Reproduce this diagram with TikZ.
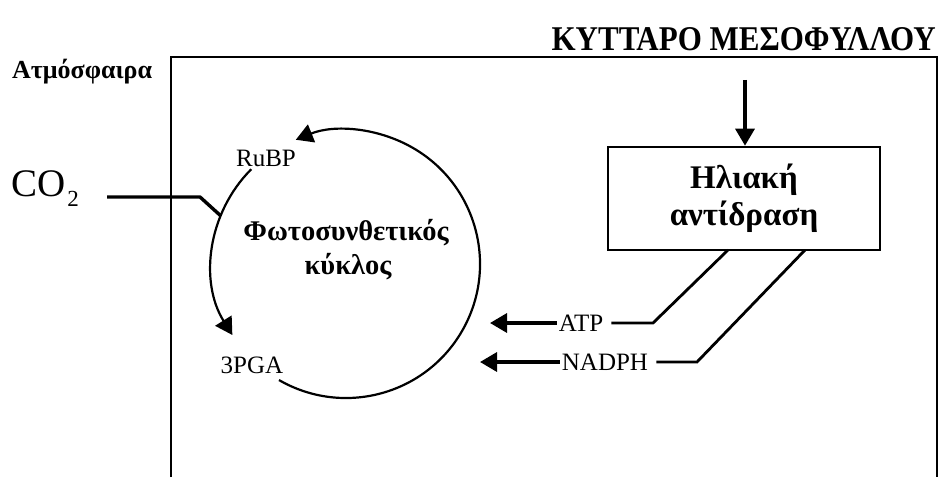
\documentclass[tikz,border=0pt]{standalone}
\usepackage{fontspec}
\setmainfont{Liberation Serif}
\usetikzlibrary{arrows.meta,positioning,calc}

\begin{document}
\begin{tikzpicture}[x=1pt,y=1pt,
  bigtip/.style={-{Triangle[length=17pt,width=19pt]}},
  thickline/.style={line width=3.4pt},
  cycleline/.style={line width=2.2pt},
  cyctext/.style={font=\bfseries\fontsize{28.5}{30}\selectfont},
  smalltext/.style={font=\fontsize{25}{27}\selectfont,inner sep=2pt}]

\useasboundingbox (0,0) rectangle (941,477);

% cell outline (open at the bottom)
\draw[line width=2.8pt] (171,0) -- (171,420) -- (937,420) -- (937,0);
\node[anchor=east,inner sep=0pt,font=\bfseries\fontsize{31}{34}\selectfont] (cell) at (936,438) {\scalebox{1}[1.12]{ΚΥΤΤΑΡΟ ΜΕΣΟΦΥΛΛΟΥ}};
\node[anchor=west,font=\bfseries\fontsize{26}{28}\selectfont,inner sep=0pt] (atm) at (12,405) {Ατμόσφαιρα};

% light reaction
\node[draw,line width=2.6pt,minimum width=272pt,minimum height=103pt,align=center,
      font=\bfseries\fontsize{33}{37}\selectfont] (light) at (744,278.5) {Ηλιακή\\αντίδραση};
\coordinate (sun) at (745,397);
\draw[thickline,bigtip] (sun) -- (light.north -| sun);

% Calvin cycle
\coordinate (cc) at (346,213);
\draw[cycleline,bigtip] ($(cc)+(-120:134)$) arc (-120:112:134);
\draw[cycleline,bigtip] ($(cc)+(135:134)$) arc (135:212:134);
\node[cyctext] (cyc1) at (346,244) {Φωτοσυνθετικός};
\node[cyctext] (cyc2) at (348,210) {κύκλος};
\node[smalltext] (rubp) at (266,319) {RuBP};
\node[smalltext] (pga) at (252,112) {3PGA};

% CO2 input
\node[font=\fontsize{39}{40}\selectfont,anchor=base west,inner sep=0pt] (co2) at (11,280) {CO\kern2pt\raisebox{-10pt}{\fontsize{23}{24}\selectfont 2}};
\coordinate (co2in) at ($(cc)+(159:134)$);
\draw[thickline,line join=round] (107,280) -- (200,280) -- (co2in);

% ATP and NADPH
\node[smalltext] (atp) at (581,154) {ATP};
\node[smalltext] (nadph) at (605,115) {NADPH};
\coordinate (atpend) at (490,154);
\coordinate (nadphend) at (480,115);
\draw[thickline,bigtip] (atp.west) -- (atpend);
\draw[thickline,bigtip] (nadph.west) -- (nadphend);
\draw[line width=2.8pt] ([xshift=6pt]atp.east) -- (653,154) -- (728,227);
\draw[line width=2.8pt] ([xshift=6pt]nadph.east) -- (697,115) -- (805,227);

\end{tikzpicture}
\end{document}
